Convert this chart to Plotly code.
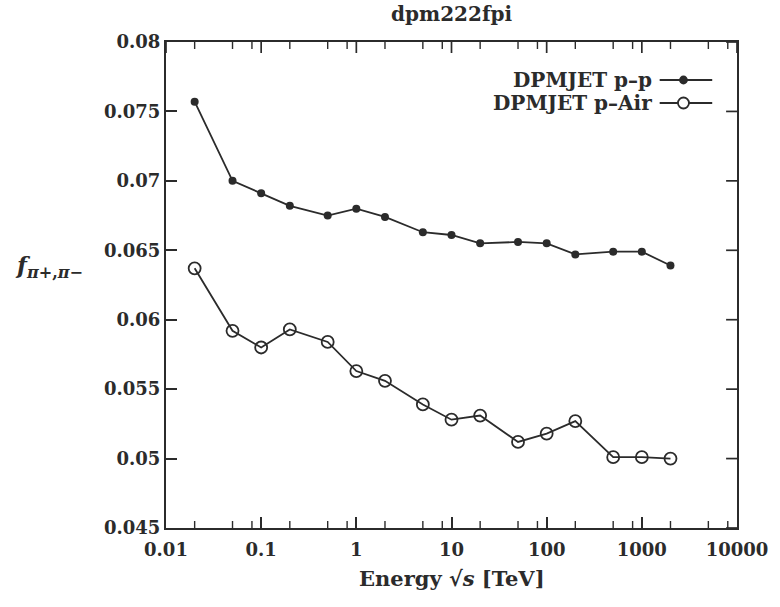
import math
import plotly.graph_objects as go

energy = [0.02, 0.05, 0.1, 0.2, 0.5, 1, 2, 5, 10, 20, 50, 100, 200, 500, 1000, 2000]
pp_vals = [0.0757, 0.0700, 0.0691, 0.0682, 0.0675, 0.0680, 0.0674, 0.0663, 0.0661,
           0.0655, 0.0656, 0.0655, 0.0647, 0.0649, 0.0649, 0.0639]
pair_vals = [0.0637, 0.0592, 0.0580, 0.0593, 0.0584, 0.0563, 0.0556, 0.0539, 0.0528,
             0.0531, 0.0512, 0.0518, 0.0527, 0.0501, 0.0501, 0.0500]

x_ticks = [0.01, 0.1, 1, 10, 100, 1000, 10000]
x_ticktext = ["0.01", "0.1", "1", "10", "100", "1000", "10000"]
y_ticks = [0.045, 0.05, 0.055, 0.06, 0.065, 0.07, 0.075, 0.08]
y_ticktext = ["0.045", "0.05", "0.055", "0.06", "0.065", "0.07", "0.075", "0.08"]
minor_x = [d * m for d in [0.01, 0.1, 1, 10, 100, 1000] for m in (2, 5, 8)]

labels = ["DPMJET p–p", "DPMJET p–Air"]
title = "dpm222fpi"

INK = "#2b2b2b"
FONT = "DejaVu Serif"

X_RANGE = [-2, 4]
Y_RANGE = [0.045, 0.08]

fig = go.Figure()
fig.add_trace(go.Scatter(x=energy, y=pp_vals, mode="lines+markers", name=labels[0],
                         line=dict(color=INK, width=1.8),
                         marker=dict(symbol="circle", size=8, color=INK)))
fig.add_trace(go.Scatter(x=energy, y=pair_vals, mode="lines+markers", name=labels[1],
                         line=dict(color=INK, width=1.8),
                         marker=dict(symbol="circle-open", size=12, color=INK,
                                     line=dict(width=1.8, color=INK))))

W, H = 780, 607
L, R, T, B = 166, 38, 42, 79
pw, ph = W - L - R, H - T - B

def px(x):
    return (x - L) / pw

def py(y):
    return (H - B - y) / ph

def xfrac(v):
    return (math.log10(v) - X_RANGE[0]) / (X_RANGE[1] - X_RANGE[0])

annotations = [
    dict(text="<b>" + title + "</b>", x=px(454), y=py(14), xref="paper", yref="paper",
         xanchor="center", yanchor="middle", showarrow=False,
         font=dict(family=FONT, size=20, color=INK)),
    dict(text="<b>Energy √<i>s</i> [TeV]</b>", x=px(454), y=py(578), xref="paper", yref="paper",
         xanchor="center", yanchor="middle", showarrow=False,
         font=dict(family=FONT, size=21, color=INK)),
    dict(text="<b><i>f</i></b><sub><b><i>π</i>+,<i>π</i>−</b></sub>", x=px(48), y=py(266),
         xref="paper", yref="paper", xanchor="center", yanchor="middle", showarrow=False,
         font=dict(family=FONT, size=23, color=INK)),
]
shapes = []

# key, gnuplot style: text right-aligned, sample to its right
rows = [80, 103]
for i, (lab, yy) in enumerate(zip(labels, rows)):
    annotations.append(dict(text="<b>" + lab + "</b>", x=px(658), y=py(yy), xref="paper", yref="paper",
                            xanchor="right", yanchor="middle", showarrow=False,
                            font=dict(family=FONT, size=20, color=INK)))
    shapes.append(dict(type="line", xref="paper", yref="paper", x0=px(664), x1=px(717),
                       y0=py(yy), y1=py(yy), line=dict(color=INK, width=1.8)))
    r = 3.5 if i == 0 else 5.5
    shapes.append(dict(type="circle", xref="paper", yref="paper", xsizemode="pixel", ysizemode="pixel",
                       xanchor=px(688), yanchor=py(yy), x0=-r, x1=r, y0=-r, y1=r,
                       fillcolor=INK if i == 0 else "white", line=dict(color=INK, width=1.8)))

# mirrored major ticks (top/right) and minor ticks (top/bottom)
MAJ, MIN = 11, 7
for v in x_ticks:
    f = xfrac(v)
    shapes.append(dict(type="line", xref="paper", yref="paper", x0=f, x1=f,
                       y0=1, y1=1 - MAJ / ph, line=dict(color=INK, width=1.7)))
for v in minor_x:
    f = xfrac(v)
    for y0, y1 in ((0, MIN / ph), (1, 1 - MIN / ph)):
        shapes.append(dict(type="line", xref="paper", yref="paper", x0=f, x1=f,
                           y0=y0, y1=y1, line=dict(color=INK, width=1.4)))
for v in y_ticks:
    shapes.append(dict(type="line", xref="paper", yref="y", x0=1, x1=1 - MAJ / pw,
                       y0=v, y1=v, line=dict(color=INK, width=1.7)))

tickfont = dict(family=FONT, size=18, color=INK, weight="bold")

fig.update_layout(
    width=W, height=H, margin=dict(l=L, r=R, t=T, b=B),
    paper_bgcolor="white", plot_bgcolor="white", showlegend=False,
    annotations=annotations, shapes=shapes,
)
fig.update_xaxes(type="log", range=X_RANGE, tickmode="array", tickvals=x_ticks, ticktext=x_ticktext,
                 ticks="inside", ticklen=MAJ, tickwidth=1.7, tickcolor=INK,
                 showline=True, linecolor=INK, linewidth=2, mirror=True, showgrid=False,
                 zeroline=False, tickfont=tickfont, ticklabelstandoff=4)
fig.update_yaxes(range=Y_RANGE, tickmode="array", tickvals=y_ticks, ticktext=y_ticktext,
                 ticks="inside", ticklen=MAJ, tickwidth=1.7, tickcolor=INK,
                 showline=True, linecolor=INK, linewidth=2, mirror=True, showgrid=False,
                 zeroline=False, tickfont=tickfont)

fig.write_html("out.html")
